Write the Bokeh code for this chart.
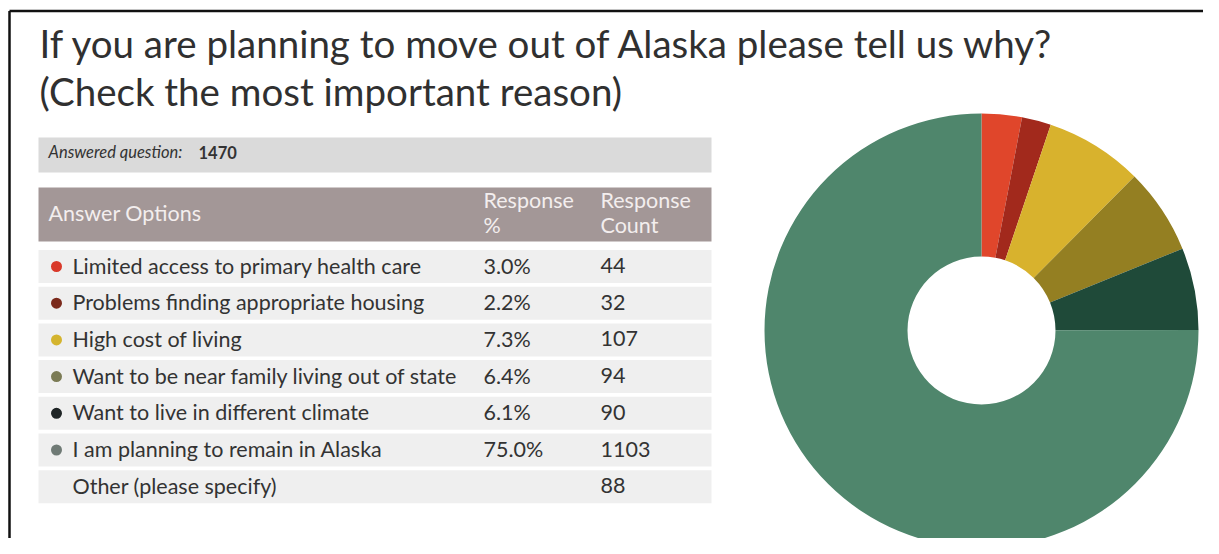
from bokeh.plotting import figure
from bokeh.models import Range1d
from bokeh.embed import file_html
from bokeh.resources import INLINE
from bokeh.core.properties import value
import math

# ---------------- data ----------------
title_lines = ["If you are planning to move out of Alaska please tell us why?",
               "(Check the most important reason)"]
answered_label = "Answered question:"
answered_count = 1470
header_option = "Answer Options"
header_pct = ["Response", "%"]
header_count = ["Response", "Count"]
options = ["Limited access to primary health care",
           "Problems finding appropriate housing",
           "High cost of living",
           "Want to be near family living out of state",
           "Want to live in different climate",
           "I am planning to remain in Alaska",
           "Other (please specify)"]
response_pct = [3.0, 2.2, 7.3, 6.4, 6.1, 75.0, None]
response_count = [44, 32, 107, 94, 90, 1103, 88]

# ---------------- styles ----------------
pie_colors = ["#e0462b", "#a2291c", "#d8b22d", "#947f22", "#1f4a39", "#4f866c"]
dot_colors = ["#d9392a", "#7b2a1c", "#d4b42e", "#7b7b55", "#1f2526", "#6f7a75"]
FONT = value("Lato")
W, H = 1203, 538
BASE_FIX = 0.37  # empirical shift of the alphabetic baseline (in em)


def X(ix):
    return ix


def Y(iy):
    return H - iy


def TY(iy, fs):
    return Y(iy - BASE_FIX * fs)


p = figure(width=W, height=H, output_backend="svg", toolbar_location=None,
           x_range=Range1d(0, W), y_range=Range1d(0, H),
           x_axis_location=None, y_axis_location=None, min_border=0)
p.outline_line_color = None
p.grid.visible = False
p.background_fill_color = "white"
p.border_fill_color = "white"

# frame lines (top and left)
p.segment(x0=[X(9), X(9)], y0=[Y(10.5), Y(10.5)], x1=[W, X(9)], y1=[Y(10.5), 0],
          line_color="#111111", line_width=2.5, line_cap="butt")

# title
fs_t = 38.5
p.text(x=[X(39), X(39)], y=[TY(57, fs_t), TY(105, fs_t)], text=title_lines, text_font=FONT,
       text_font_size=f"{fs_t}px", text_color="#303030", text_baseline="alphabetic")

# answered bar
tl, tr = X(38), X(711)
p.quad(left=[tl], right=[tr], top=[Y(137)], bottom=[Y(172)], fill_color="#dadada", line_color=None)
fs_a = 16.5
p.text(x=[X(48)], y=[TY(158, fs_a)], text=[answered_label], text_font=FONT, text_font_size=f"{fs_a}px",
       text_font_style="italic", text_color="#333333", text_baseline="alphabetic")
p.text(x=[X(198)], y=[TY(158, fs_a)], text=[str(answered_count)], text_font=FONT, text_font_size=f"{fs_a}px",
       text_font_style="bold", text_color="#333333", text_baseline="alphabetic")

# header bar
fs_h = 21.5
p.quad(left=[tl], right=[tr], top=[Y(187)], bottom=[Y(241)], fill_color="#a39797", line_color=None)
p.text(x=[X(48)], y=[TY(220, fs_h)], text=[header_option], text_font=FONT, text_font_size=f"{fs_h}px",
       text_color="#f3eeee", text_baseline="alphabetic")
p.text(x=[X(483)] * 2, y=[TY(207, fs_h), TY(232, fs_h)], text=header_pct, text_font=FONT,
       text_font_size=f"{fs_h}px", text_color="#f3eeee", text_baseline="alphabetic")
p.text(x=[X(600)] * 2, y=[TY(207, fs_h), TY(232, fs_h)], text=header_count, text_font=FONT,
       text_font_size=f"{fs_h}px", text_color="#f3eeee", text_baseline="alphabetic")

# rows
fs_r = 21.5
row0, step = 266.0, 36.7
n = len(options)
centers = [row0 + i * step for i in range(n)]
p.quad(left=[tl] * n, right=[tr] * n,
       top=[Y(c - 16.5) for c in centers], bottom=[Y(c + 16.5) for c in centers],
       fill_color="#efefef", line_color=None)
base = [TY(c + 7, fs_r) for c in centers]
p.text(x=[X(72)] * n, y=base, text=options,
       text_font=FONT, text_font_size=f"{fs_r}px", text_color="#333333", text_baseline="alphabetic")
pct_text = ["" if v is None else f"{v:.1f}%" for v in response_pct]
p.text(x=[X(483)] * n, y=base, text=pct_text,
       text_font=FONT, text_font_size=f"{fs_r}px", text_color="#333333", text_baseline="alphabetic")
p.text(x=[X(600)] * n, y=base, text=[str(v) for v in response_count],
       text_font=FONT, text_font_size=f"{fs_r}px", text_color="#333333", text_baseline="alphabetic")
ndots = len(dot_colors)
p.circle(x=[X(56)] * ndots, y=[Y(c) for c in centers[:ndots]], radius=5.5,
         fill_color=dot_colors, line_color=None)

# donut
pie_counts = response_count[:6]
total = sum(pie_counts)
starts, ends = [], []
cum = 0
for c in pie_counts:
    starts.append(math.pi / 2 - 2 * math.pi * cum / total)
    cum += c
    ends.append(math.pi / 2 - 2 * math.pi * cum / total)
cx, cy = X(981), Y(330)
p.annular_wedge(x=[cx] * 6, y=[cy] * 6, inner_radius=74, outer_radius=217,
                start_angle=starts, end_angle=ends, direction="clock",
                fill_color=pie_colors, line_color=None)

open("out.html", "w").write(file_html(p, INLINE))
